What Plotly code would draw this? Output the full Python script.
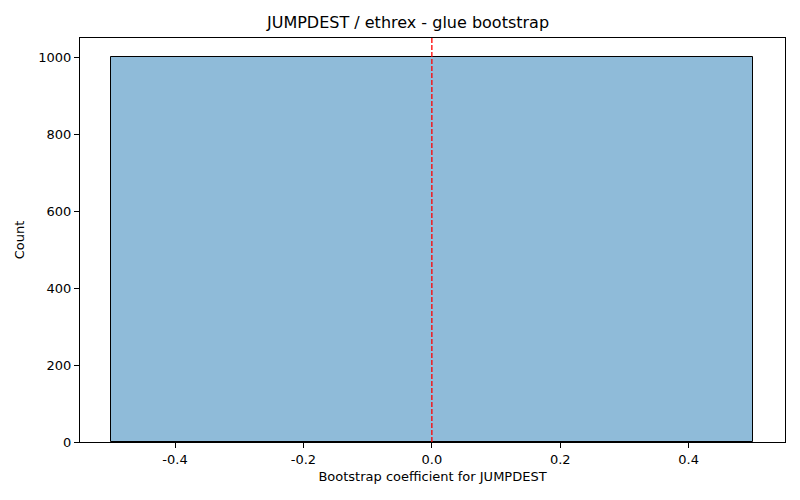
import plotly.graph_objects as go

# histogram data: one bin from -0.5 to 0.5
bin_left = [-0.5]
bin_right = [0.5]
counts = [1000]
ref_line_x = 0.0

x_ticks = [-0.4, -0.2, 0.0, 0.2, 0.4]
y_ticks = [0, 200, 400, 600, 800, 1000]

centers = [(a + b) / 2 for a, b in zip(bin_left, bin_right)]
widths = [b - a for a, b in zip(bin_left, bin_right)]

fig = go.Figure()
fig.add_trace(go.Bar(
    x=centers, y=counts, width=widths,
    marker=dict(color="rgba(31,119,180,0.5)", line=dict(color="black", width=1)),
    showlegend=False,
))

# red dashed reference line at zero
fig.add_vline(x=ref_line_x, layer="above", opacity=1,
              line=dict(color="#ff0000", width=1.3, dash="5px,2px"))

axis_style = dict(
    showline=True, linecolor="black", linewidth=1, mirror=True,
    ticks="outside", ticklen=5, tickcolor="black",
    showgrid=False, zeroline=False,
    tickfont=dict(size=13, color="black"),
)

fig.update_layout(
    width=800, height=500,
    margin=dict(l=72, r=23, t=30, b=66, autoexpand=False),
    plot_bgcolor="white", paper_bgcolor="white",
    font=dict(family="DejaVu Sans", color="black"),
    title=dict(text="JUMPDEST / ethrex - glue bootstrap", x=0.5, xanchor="center",
               y=0.972, yanchor="middle", font=dict(size=16)),
    bargap=0,
    xaxis=dict(axis_style, range=[-0.548, 0.55], tickvals=x_ticks,
               ticktext=[f"{v:.1f}" for v in x_ticks],
               title=dict(text="Bootstrap coefficient for JUMPDEST", font=dict(size=13), standoff=6)),
    yaxis=dict(axis_style, range=[0, 1049.4], tickvals=y_ticks,
               title=dict(text="Count", font=dict(size=13), standoff=10)),
)

fig.write_html("out.html")
